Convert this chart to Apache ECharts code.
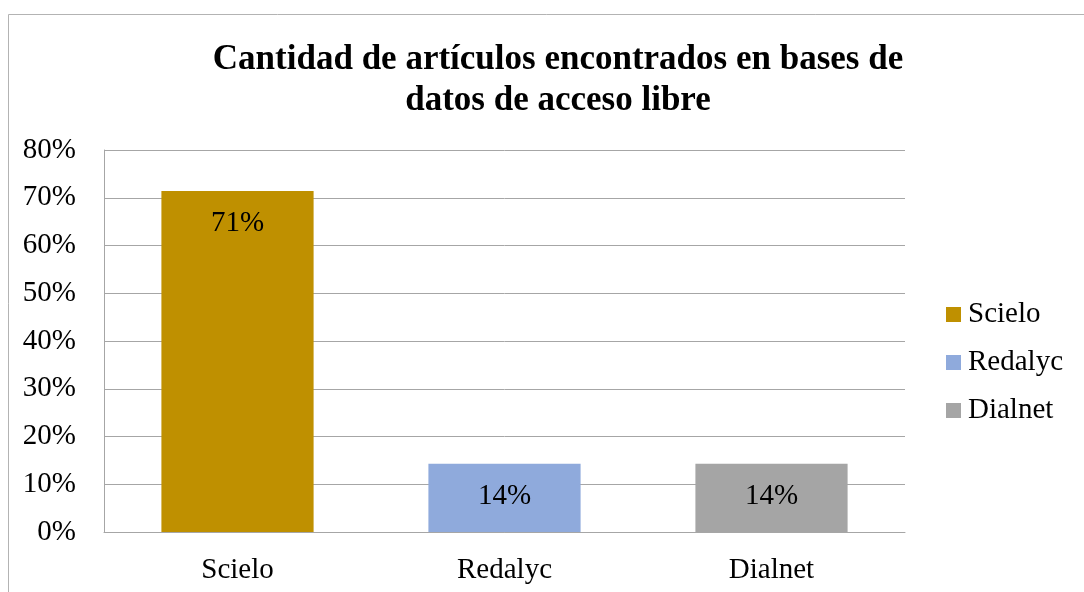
<!DOCTYPE html>
<html>
<head>
<meta charset="utf-8">
<script src="https://cdn.jsdelivr.net/npm/echarts@6/dist/echarts.min.js"></script>
<style>
  html, body { margin: 0; padding: 0; background: #fff; }
  #main { width: 1084px; height: 592px; }
</style>
</head>
<body>
<div id="main"></div>
<script>
var categories = ['Scielo', 'Redalyc', 'Dialnet'];
var scielo = [71.4, '-', '-'];
var redalyc = ['-', 14.3, '-'];
var dialnet = ['-', '-', 14.3];
var labelText = ['71%', '14%', '14%'];

var myChart = echarts.init(document.getElementById('main'));
var serif = '"Liberation Serif", "Times New Roman", serif';

function barSeries(name, data, color) {
    return {
        name: name,
        type: 'bar',
        stack: 'all',
        barWidth: '57%',
        data: data,
        itemStyle: { color: color },
        label: {
            show: true,
            position: 'insideTop',
            distance: 18,
            fontFamily: serif,
            fontSize: 29,
            color: '#000',
            formatter: function (p) { return labelText[p.dataIndex]; }
        }
    };
}

option = {
    animation: false,
    backgroundColor: '#fff',
    title: {
        text: 'Cantidad de artículos encontrados en bases de\ndatos de acceso libre',
        left: 553,
        textAlign: 'center',
        top: 34,
        textStyle: {
            fontFamily: serif,
            fontSize: 35,
            fontWeight: 'bold',
            color: '#000',
            lineHeight: 41
        }
    },
    graphic: [{
        type: 'rect',
        shape: { x: 8.5, y: 14.5, width: 1100, height: 620 },
        style: { fill: null, stroke: '#b3b3b3', lineWidth: 1 },
        silent: true
    }],
    legend: {
        orient: 'vertical',
        left: 941,
        top: 295,
        itemWidth: 15,
        itemHeight: 15,
        itemGap: 19,
        icon: 'rect',
        textStyle: { fontFamily: serif, fontSize: 29, color: '#000', padding: [0, 0, 0, 2] },
        data: ['Scielo', 'Redalyc', 'Dialnet']
    },
    grid: { left: 104, right: 179, top: 150, bottom: 60 },
    xAxis: {
        type: 'category',
        data: categories,
        axisLine: { lineStyle: { color: '#a6a6a6' } },
        axisTick: { show: false },
        axisLabel: { margin: 24, fontFamily: serif, fontSize: 29, color: '#000' }
    },
    yAxis: {
        type: 'value',
        min: 0,
        max: 80,
        interval: 10,
        axisLine: { show: true, lineStyle: { color: '#a6a6a6' } },
        axisTick: { show: false },
        splitLine: { lineStyle: { color: '#a6a6a6' } },
        axisLabel: { margin: 28, fontFamily: serif, fontSize: 29, color: '#000', formatter: '{value}%' }
    },
    series: [
        barSeries('Scielo', scielo, '#bf9000'),
        barSeries('Redalyc', redalyc, '#8faadc'),
        barSeries('Dialnet', dialnet, '#a5a5a5')
    ]
};

myChart.setOption(option);
</script>
</body>
</html>
